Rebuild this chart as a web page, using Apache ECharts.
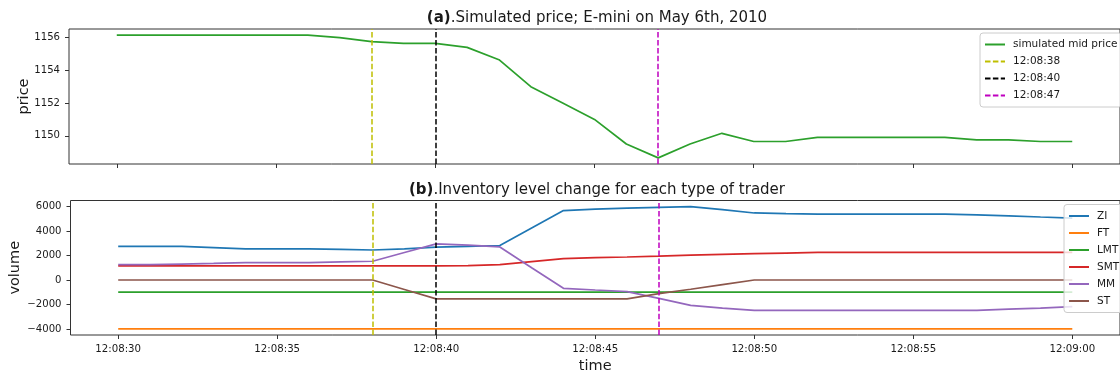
<!DOCTYPE html>
<html><head><meta charset="utf-8">
<script src="https://cdn.jsdelivr.net/npm/echarts@6/dist/echarts.min.js"></script>
<style>html,body{margin:0;padding:0;background:#fff}#c{width:1120px;height:375px}</style>
</head><body><div id="c"></div>
<script>
// ---- data ----
const times = ['12:08:30','12:08:31','12:08:32','12:08:33','12:08:34','12:08:35','12:08:36','12:08:37','12:08:38','12:08:39',
  '12:08:40','12:08:41','12:08:42','12:08:43','12:08:44','12:08:45','12:08:46','12:08:47','12:08:48','12:08:49',
  '12:08:50','12:08:51','12:08:52','12:08:53','12:08:54','12:08:55','12:08:56','12:08:57','12:08:58','12:08:59','12:09:00'];
const midPrice = [1156.15,1156.15,1156.15,1156.15,1156.15,1156.15,1156.15,1156.0,1155.75,1155.65,
  1155.65,1155.4,1154.65,1153.0,1152.0,1151.0,1149.5,1148.65,1149.5,1150.15,
  1149.65,1149.65,1149.9,1149.9,1149.9,1149.9,1149.9,1149.75,1149.75,1149.65,1149.65];
const ZI  = [2750,2750,2750,2650,2550,2550,2550,2500,2450,2550,2680,2750,2820,4250,5680,5800,5880,5940,6000,5750,5480,5420,5380,5380,5380,5380,5380,5330,5250,5150,5060];
const FT  = [-4000,-4000,-4000,-4000,-4000,-4000,-4000,-4000,-4000,-4000,-4000,-4000,-4000,-4000,-4000,-4000,-4000,-4000,-4000,-4000,-4000,-4000,-4000,-4000,-4000,-4000,-4000,-4000,-4000,-4000,-4000];
const LMT = [-1000,-1000,-1000,-1000,-1000,-1000,-1000,-1000,-1000,-1000,-1000,-1000,-1000,-1000,-1000,-1000,-1000,-1000,-1000,-1000,-1000,-1000,-1000,-1000,-1000,-1000,-1000,-1000,-1000,-1000,-1000];
const SMT = [1150,1150,1150,1150,1150,1150,1150,1150,1150,1150,1150,1180,1250,1500,1750,1820,1880,1950,2030,2090,2150,2200,2250,2250,2250,2250,2250,2250,2250,2250,2250];
const MM  = [1250,1250,1300,1350,1420,1420,1420,1480,1530,2250,2950,2850,2700,1000,-680,-820,-950,-1500,-2080,-2300,-2480,-2480,-2480,-2480,-2480,-2480,-2480,-2480,-2380,-2300,-2180];
const ST  = [0,0,0,0,0,0,0,0,0,-775,-1550,-1550,-1550,-1550,-1550,-1550,-1550,-1120,-760,-380,0,0,0,0,0,0,0,0,0,0,0];
const markerTimes = ['12:08:38','12:08:40','12:08:47'];
const xTickLabels = ['12:08:30','12:08:35','12:08:40','12:08:45','12:08:50','12:08:55','12:09:00'];
const priceTicks = [1150,1152,1154,1156];
const volumeTicks = [-4000,-2000,0,2000,4000,6000];
const traderNames = ['ZI','FT','LMT','SMT','MM','ST'];
const traderValues = [ZI,FT,LMT,SMT,MM,ST];

// ---- helpers ----
const BASE = 12*3600 + 8*60;
function toSec(t){ const p = t.split(':').map(Number); return p[0]*3600 + p[1]*60 + p[2] - BASE; }
function fmtSec(v){ const tot = Math.round(v) + BASE; const h = Math.floor(tot/3600), m = Math.floor((tot%3600)/60), s = tot%60;
  const z = n => (n<10?'0':'') + n; return h + ':' + z(m) + ':' + z(s); }
const xs = times.map(toSec);
const pairs = arr => xs.map((x,i)=>[x, arr[i]]);

const tab10 = ['#1f77b4','#ff7f0e','#2ca02c','#d62728','#9467bd','#8c564b'];
const markerColors = ['#bfbf00','#000000','#bf00bf'];
const dash = [5.5, 2.4];
const TXT = '#1a1a1a';
const font = 'DejaVu Sans';
const LW = 1.7;

const xMin = 28.5, xMax = 61.5;
const xTickVals = xTickLabels.map(toSec);

function xAxisCfg(gi, showLabels, name){
  return {
    type:'value', gridIndex: gi, min: xMin, max: xMax, position:'bottom',
    axisLine:{show:false, onZero:false}, splitLine:{show:false},
    axisTick:{show:true, length:4, lineStyle:{color:'#333', width:1}, customValues: xTickVals},
    axisLabel:{show: showLabels, customValues: xTickVals, formatter: v => fmtSec(v), color: TXT, fontSize:10.2, fontFamily: font, margin: 9},
    name: name || '', nameLocation:'middle', nameGap: 24, nameMoveOverlap:false,
    nameTextStyle:{color: TXT, fontSize: 14.5, fontFamily: font}
  };
}
function yAxisCfg(gi, min, max, ticks, name, gap){
  return {
    type:'value', gridIndex: gi, min: min, max: max, position:'left',
    axisLine:{show:false, onZero:false}, splitLine:{show:false},
    axisTick:{show:true, length:4, lineStyle:{color:'#333', width:1}, customValues: ticks},
    axisLabel:{customValues: ticks, formatter: v => (v<0 ? '\u2212' + Math.abs(v) : '' + v), color: TXT, fontSize:10.1, fontFamily: font, margin: 9},
    name: name, nameLocation:'middle', nameGap: gap, nameMoveOverlap:false,
    nameTextStyle:{color: TXT, fontSize: 14.5, fontFamily: font}
  };
}

const series = [];
series.push({
  name:'simulated mid price', type:'line', xAxisIndex:0, yAxisIndex:0, data: pairs(midPrice),
  symbol:'none', lineStyle:{color:'#2ca02c', width:LW}, itemStyle:{color:'#2ca02c'}
});
traderNames.forEach((n,i)=>{
  series.push({
    name: n, type:'line', xAxisIndex:1, yAxisIndex:1, data: pairs(traderValues[i]),
    symbol:'none', lineStyle:{color: tab10[i], width:LW}, itemStyle:{color: tab10[i]}
  });
});
markerTimes.forEach((t,i)=>{
  [0,1].forEach(gi=>{
    series.push({
      name: t, type:'line', xAxisIndex: gi, yAxisIndex: gi, data: [],
      symbol:'none', lineStyle:{color: markerColors[i], width:1.5, type: dash}, itemStyle:{color: markerColors[i]},
      markLine:{ silent:true, symbol:['none','none'], label:{show:false},
        lineStyle:{color: markerColors[i], width:1.5, type: dash}, data:[{xAxis: toSec(t)}] },
      z: 3
    });
  });
});

const legendBase = {
  orient:'vertical', itemWidth:20, itemHeight:10, itemGap:6,
  backgroundColor:'rgba(255,255,255,0.8)', borderColor:'#cccccc', borderWidth:1, borderRadius:3,
  itemStyle:{opacity:0},
  textStyle:{color: TXT, fontSize:10.5, fontFamily: font, padding:[0,0,0,3]},
  selectedMode:false
};

const titleStyle = {color:TXT, fontSize:15, fontWeight:'normal', fontFamily:font, rich:{b:{fontWeight:'bold', fontSize:15, color:TXT, fontFamily:font}}};
const option = {
  animation:false,
  backgroundColor:'#ffffff',
  textStyle:{fontFamily: font},
  title:[
    {text:'{b|(a)}.Simulated price; E-mini on May 6th, 2010', left:597, top:11, textAlign:'center', padding:0, textStyle:titleStyle},
    {text:'{b|(b)}.Inventory level change for each type of trader', left:597, top:183, textAlign:'center', padding:0, textStyle:titleStyle}
  ],
  grid:[
    {left:69, top:29, width:1056, height:135, show:true, borderColor:'#333', borderWidth:1, backgroundColor:'transparent'},
    {left:69, top:200.5, width:1056, height:135, show:true, borderColor:'#333', borderWidth:1, backgroundColor:'transparent'}
  ],
  xAxis:[ xAxisCfg(0,false), xAxisCfg(1,true,'time') ],
  yAxis:[ yAxisCfg(0, 1148.275, 1156.525, priceTicks, 'price', 37),
          yAxisCfg(1, -4500, 6500, volumeTicks, 'volume', 47.5) ],
  legend:[
    Object.assign({}, legendBase, {left:980, top:33, padding:[6,4,6,4], data:['simulated mid price'].concat(markerTimes)}),
    Object.assign({}, legendBase, {left:1064, top:204.5, padding:[6,4,6,4], data: traderNames})
  ],
  series: series
};
const chart = echarts.init(document.getElementById('c'), null, {renderer:'canvas'});
chart.setOption(option);
</script>
</body></html>
